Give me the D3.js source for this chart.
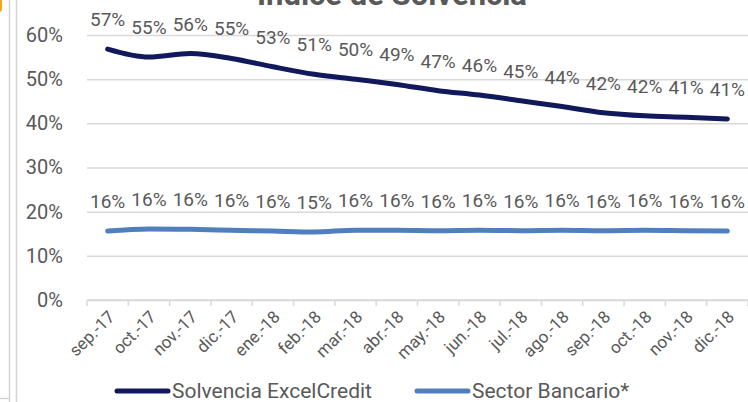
<!DOCTYPE html>
<html>
<head>
<meta charset="utf-8">
<script src="https://cdn.jsdelivr.net/npm/d3@7"></script>
<style>
  body { margin: 0; background: white; }
  svg { display: block; font-family: Roboto, "Open Sans", sans-serif; }
</style>
</head>
<body>
<svg id="chart" width="748" height="402"></svg>
<script>
var months = ["sep.-17", "oct.-17", "nov.-17", "dic.-17", "ene.-18", "feb.-18", "mar.-18", "abr.-18",
              "may.-18", "jun.-18", "jul.-18", "ago.-18", "sep.-18", "oct.-18", "nov.-18", "dic.-18"];
var solvenciaExcel = [0.568, 0.550, 0.558, 0.547, 0.528, 0.511, 0.500, 0.488,
                      0.474, 0.464, 0.451, 0.438, 0.424, 0.417, 0.414, 0.410];
var sectorBancario = [0.156, 0.161, 0.160, 0.158, 0.156, 0.154, 0.158, 0.158,
                      0.157, 0.158, 0.157, 0.158, 0.157, 0.158, 0.157, 0.156];
var yTicks = [0, 0.1, 0.2, 0.3, 0.4, 0.5, 0.6];
var seriesNames = ["Solvencia ExcelCredit", "Sector Bancario*"];
var seriesColors = ["#11185c", "#4f80bd"];

var svg = d3.select("#chart");
var grey = "#595959";
var pct = d3.format(".0%");

var x = d3.scaleBand().domain(months).range([87, 748]);
var y = d3.scaleLinear().domain([0, 0.6]).range([300, 35]);
var cx = function(m){ return x(m) + x.bandwidth() / 2; };

// window decorations at the left edge
svg.append("rect").attr("x", -8).attr("y", -6).attr("width", 10).attr("height", 18)
    .attr("rx", 3).attr("fill", "#f2a51a");
svg.append("line").attr("x1", 9.5).attr("x2", 9.5).attr("y1", 0).attr("y2", 402)
    .attr("stroke", "#d4d4d4").attr("stroke-width", 1.5);
svg.append("line").attr("x1", 16.5).attr("x2", 16.5).attr("y1", 0).attr("y2", 402)
    .attr("stroke", "#d4d4d4").attr("stroke-width", 1.5);
svg.append("line").attr("x1", 0).attr("x2", 9).attr("y1", 398.5).attr("y2", 398.5)
    .attr("stroke", "#d4d4d4").attr("stroke-width", 1.5);

// title, cut off at the top like the reference
svg.append("text")
    .attr("x", 392).attr("y", 5)
    .attr("text-anchor", "middle")
    .attr("font-size", 31).attr("font-weight", "bold")
    .attr("fill", grey)
    .text("Índice de Solvencia");

// gridlines + y labels
var yAxis = d3.axisLeft(y).tickValues(yTicks).tickFormat(pct).tickSize(-(748 - 87)).tickPadding(24);
var gy = svg.append("g").attr("transform", "translate(87,0)").call(yAxis);
gy.select(".domain").remove();
gy.selectAll(".tick line").attr("stroke", "#d9d9d9").attr("stroke-width", 1.5);
gy.selectAll(".tick text").attr("fill", grey).attr("font-size", 20).attr("font-family", "Roboto");

// x axis with ticks between categories
svg.append("line").attr("x1", 87).attr("x2", 748).attr("y1", y(0)).attr("y2", y(0))
    .attr("stroke", "#d9d9d9").attr("stroke-width", 1.5);
svg.selectAll(".xtick").data(months.concat(["_end"]))
    .enter().append("line")
    .attr("class", "xtick")
    .attr("x1", function(d){ return d === "_end" ? 748 : x(d); })
    .attr("x2", function(d){ return d === "_end" ? 748 : x(d); })
    .attr("y1", y(0)).attr("y2", y(0) + 6)
    .attr("stroke", "#d9d9d9").attr("stroke-width", 1.5);
svg.selectAll(".xlabel").data(months)
    .enter().append("text")
    .attr("class", "xlabel")
    .attr("text-anchor", "end")
    .attr("font-size", 17)
    .attr("fill", grey)
    .attr("transform", function(d){ return "translate(" + (cx(d) + 8) + "," + 318 + ") rotate(-45)"; })
    .text(function(d){ return d; });

// lines + labels
var line = d3.line()
    .x(function(d, i){ return cx(months[i]); })
    .y(function(d){ return y(d); })
    .curve(d3.curveMonotoneX);

[solvenciaExcel, sectorBancario].forEach(function(values, s){
    svg.append("path")
        .datum(values)
        .attr("d", line)
        .attr("fill", "none")
        .attr("stroke", seriesColors[s])
        .attr("stroke-width", 5)
        .attr("stroke-linecap", "round")
        .attr("stroke-linejoin", "round");
    svg.selectAll(".lbl" + s).data(values)
        .enter().append("text")
        .attr("class", "lbl" + s)
        .attr("text-anchor", "middle")
        .attr("font-size", 19)
        .attr("fill", grey)
        .attr("x", function(d, i){ return cx(months[i]); })
        .attr("y", function(d){ return y(d) - 23; })
        .text(function(d){ return pct(d); });
});

// legend
var legendX = [115, 415];
seriesNames.forEach(function(name, s){
    svg.append("line")
        .attr("x1", legendX[s] + 2).attr("x2", legendX[s] + 53)
        .attr("y1", 391).attr("y2", 391)
        .attr("stroke", seriesColors[s]).attr("stroke-width", 5)
        .attr("stroke-linecap", "round");
    svg.append("text")
        .attr("x", legendX[s] + 57).attr("y", 398)
        .attr("font-size", 21)
        .attr("fill", grey)
        .text(name);
});
</script>
</body>
</html>
